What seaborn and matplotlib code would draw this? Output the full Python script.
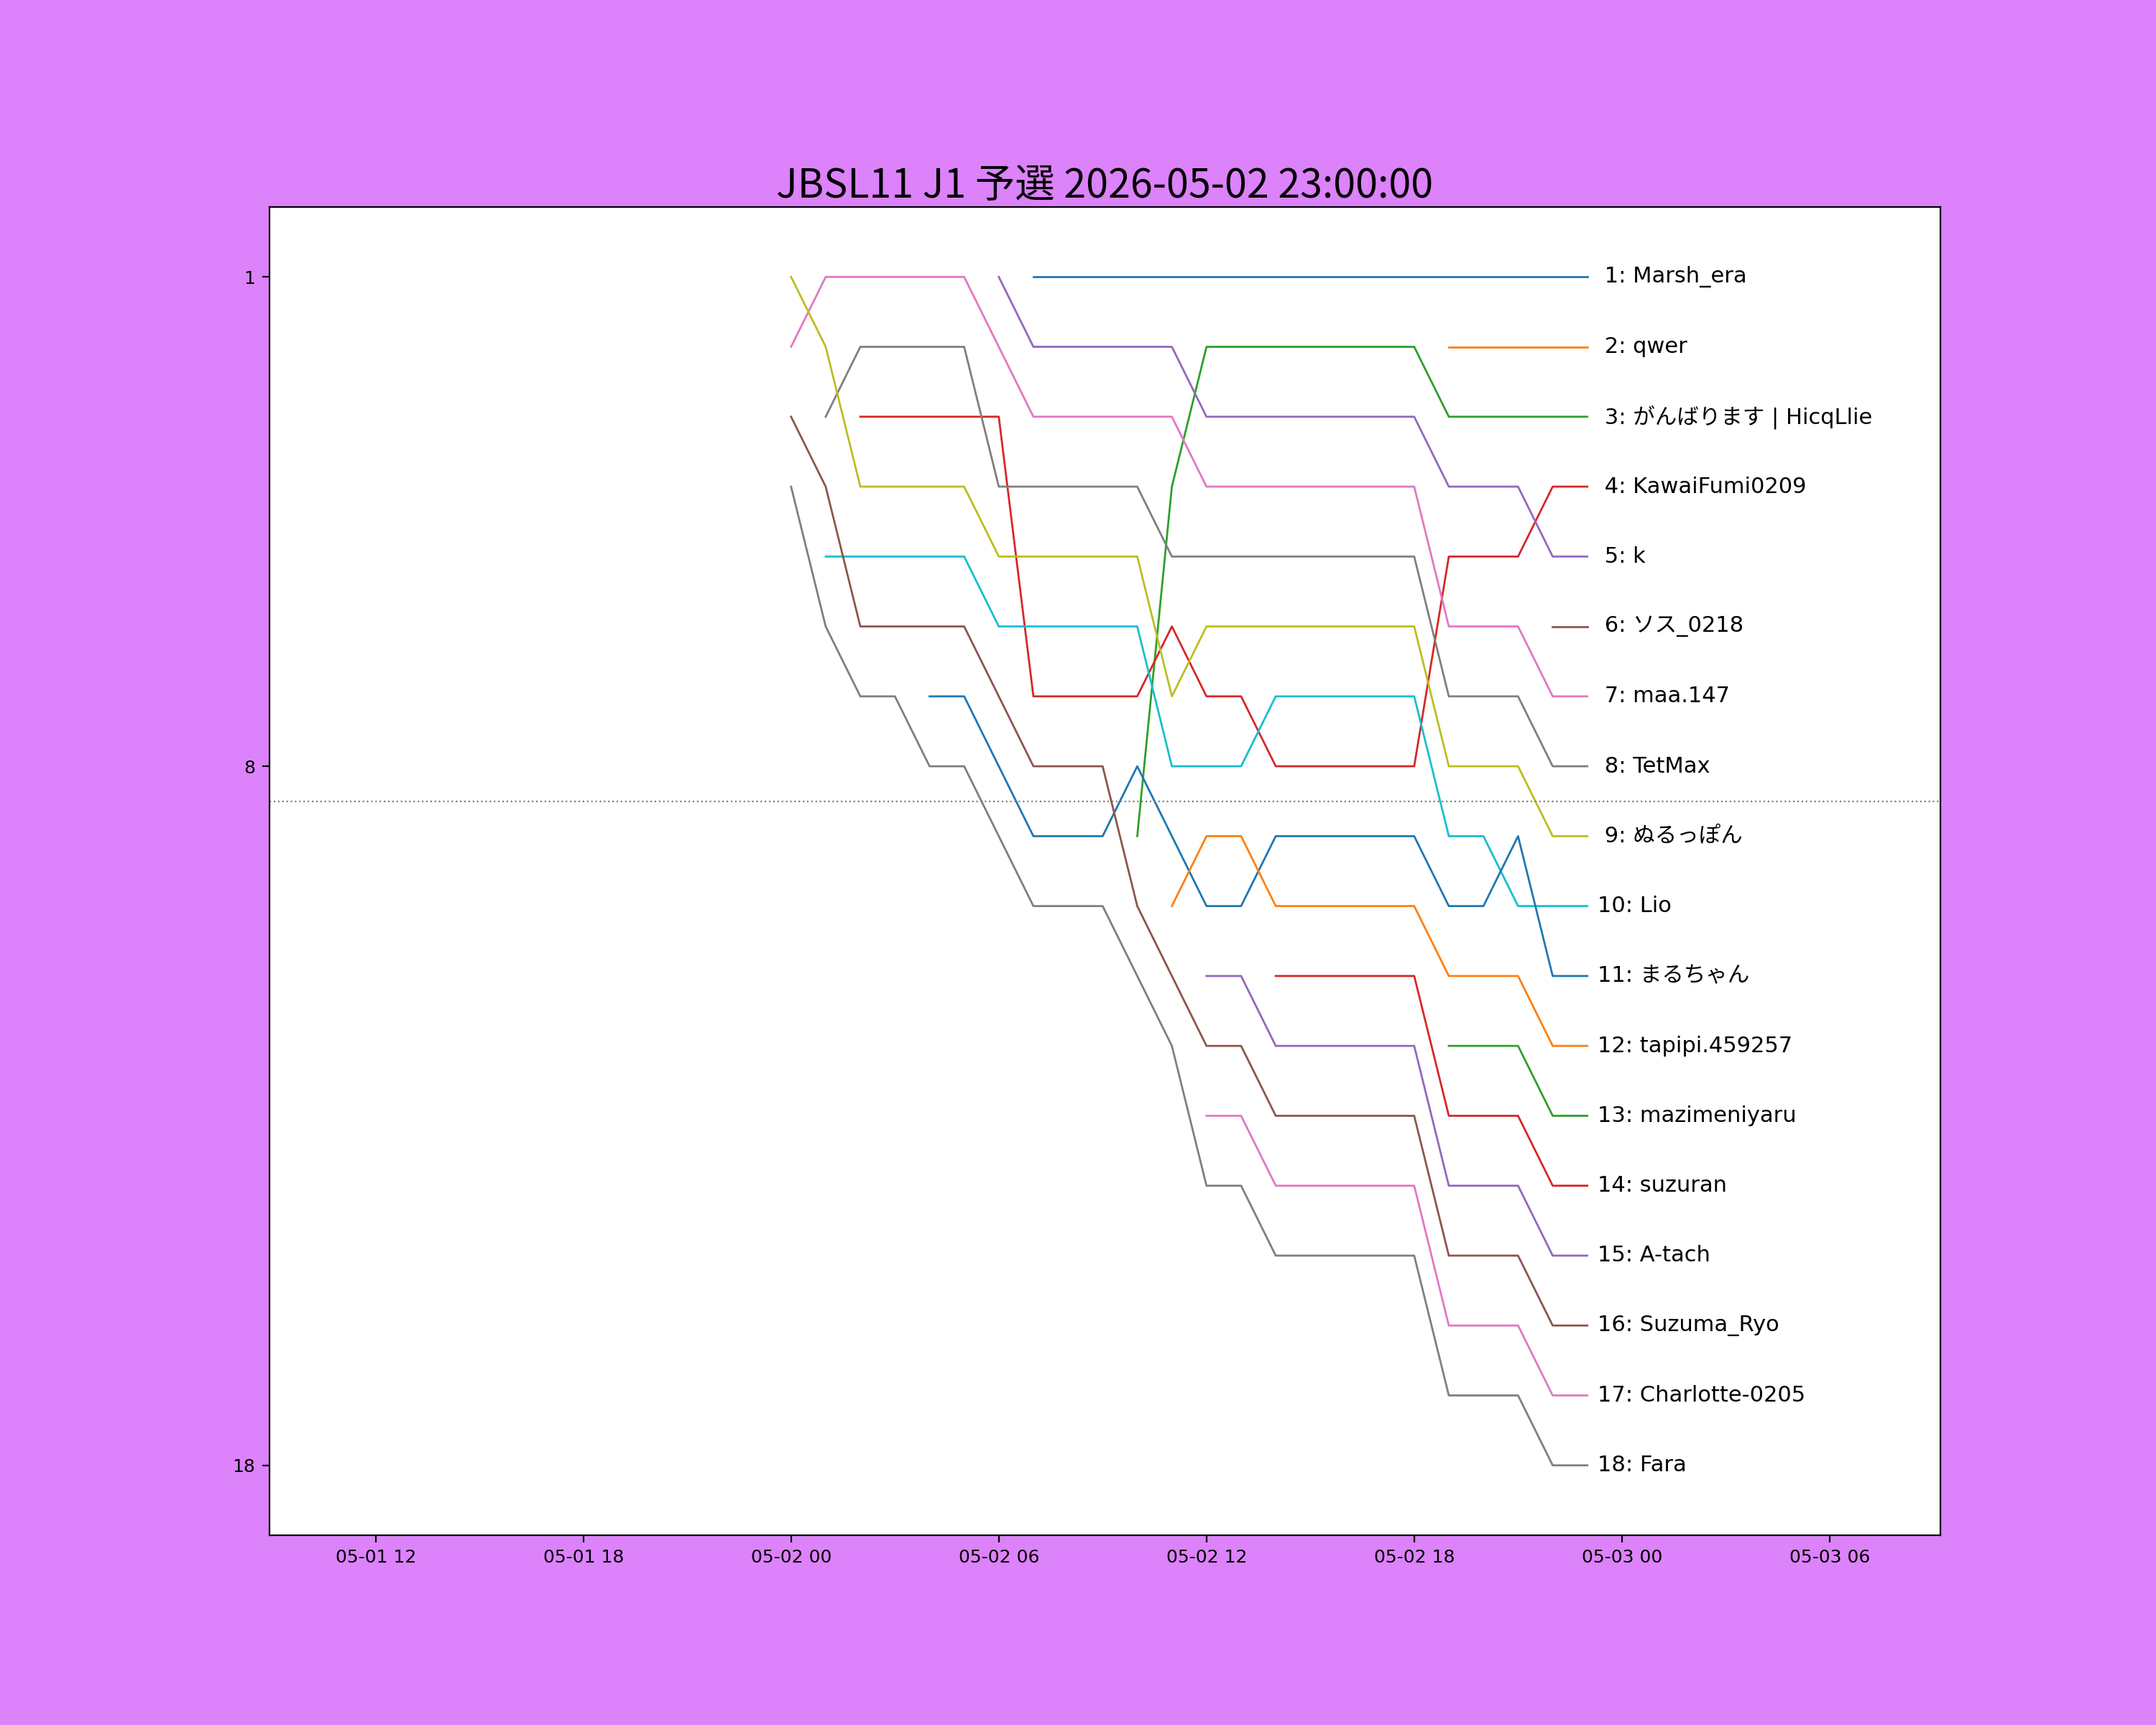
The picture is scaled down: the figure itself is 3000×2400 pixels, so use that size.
import matplotlib
matplotlib.use("Agg")
import matplotlib.pyplot as plt
import matplotlib.dates as mdates
import seaborn as sns
import pandas as pd
import numpy as np

plt.rcParams['font.family'] = ['DejaVu Sans', 'Noto Sans CJK JP']

title = "JBSL11 J1 予選 2026-05-02 23:00:00"
start_time = "2026-05-02 00:00"
last_time = "2026-05-02 23:00"
x_min = "2026-05-01 08:56"
x_max = "2026-05-03 09:12"

names = ["Marsh_era", "qwer", "がんばります | HicqLlie", "KawaiFumi0209", "k",
         "ソス_0218", "maa.147", "TetMax", "ぬるっぽん", "Lio", "まるちゃん",
         "tapipi.459257", "mazimeniyaru", "suzuran", "A-tach", "Suzuma_Ryo",
         "Charlotte-0205", "Fara"]

# hour (from start_time) of each player's first ranked snapshot
first_hour = [7, 19, 10, 2, 6, 22, 0, 1, 0, 1, 4, 11, 19, 14, 12, 0, 12, 0]

r_marsh_era = [1, 1, 1, 1, 1, 1, 1, 1, 1, 1, 1, 1, 1, 1, 1, 1, 1]
r_qwer = [2, 2, 2, 2, 2]
r_hicqllie = [9, 4, 2, 2, 2, 2, 2, 2, 2, 3, 3, 3, 3, 3]
r_kawaifumi = [3, 3, 3, 3, 3, 7, 7, 7, 7, 6, 7, 7, 8, 8, 8, 8, 8, 5, 5, 5, 4, 4]
r_k = [1, 2, 2, 2, 2, 2, 3, 3, 3, 3, 3, 3, 3, 4, 4, 4, 5, 5]
r_sosu = [6, 6]
r_maa = [2, 1, 1, 1, 1, 1, 2, 3, 3, 3, 3, 3, 4, 4, 4, 4, 4, 4, 4, 6, 6, 6, 7, 7]
r_tetmax = [3, 2, 2, 2, 2, 4, 4, 4, 4, 4, 5, 5, 5, 5, 5, 5, 5, 5, 7, 7, 7, 8, 8]
r_nurupon = [1, 2, 4, 4, 4, 4, 5, 5, 5, 5, 5, 7, 6, 6, 6, 6, 6, 6, 6, 8, 8, 8, 9, 9]
r_lio = [5, 5, 5, 5, 5, 6, 6, 6, 6, 6, 8, 8, 8, 7, 7, 7, 7, 7, 9, 9, 10, 10, 10]
r_maruchan = [7, 7, 8, 9, 9, 9, 8, 9, 10, 10, 9, 9, 9, 9, 9, 10, 10, 9, 11, 11]
r_tapipi = [10, 9, 9, 10, 10, 10, 10, 10, 11, 11, 11, 12, 12]
r_mazimeniyaru = [12, 12, 12, 13, 13]
r_suzuran = [11, 11, 11, 11, 11, 13, 13, 13, 14, 14]
r_atach = [11, 11, 12, 12, 12, 12, 12, 14, 14, 14, 15, 15]
r_suzuma = [3, 4, 6, 6, 6, 6, 7, 8, 8, 8, 10, 11, 12, 12, 13, 13, 13, 13, 13, 15, 15, 15, 16, 16]
r_charlotte = [13, 13, 14, 14, 14, 14, 14, 16, 16, 16, 17, 17]
r_fara = [4, 6, 7, 7, 8, 8, 9, 10, 10, 10, 11, 12, 14, 14, 15, 15, 15, 15, 15, 17, 17, 17, 18, 18]

rank_series = [r_marsh_era, r_qwer, r_hicqllie, r_kawaifumi, r_k, r_sosu, r_maa,
               r_tetmax, r_nurupon, r_lio, r_maruchan, r_tapipi, r_mazimeniyaru,
               r_suzuran, r_atach, r_suzuma, r_charlotte, r_fara]

final_ranks = list(range(1, 19))
y_ticks = [1, 8, 18]
cutoff_line = 8.5

t0 = pd.Timestamp(start_time)
rows = []
for name, h0, ranks in zip(names, first_hour, rank_series):
    for i, r in enumerate(ranks):
        rows.append({"time": t0 + pd.Timedelta(hours=h0 + i), "player": name, "rank": r})
df = pd.DataFrame(rows)

tab10 = sns.color_palette("tab10", 10)
palette = {n: tab10[i % 10] for i, n in enumerate(names)}

fig = plt.figure(figsize=(15, 12), dpi=200, facecolor="#DC82FA")
ax = fig.add_subplot(111)
ax.set_facecolor("white")

sns.lineplot(data=df, x="time", y="rank", hue="player", hue_order=names,
             palette=palette, linewidth=1.0, legend=False, ax=ax,
             estimator=None, sort=True)

ax.axhline(cutoff_line, color="gray", linestyle=":", linewidth=0.8)

label_x = pd.Timestamp(last_time) + pd.Timedelta(minutes=18)
for rank, name in zip(final_ranks, names):
    ax.text(label_x, rank, f"{rank:2d}: {name}", va="center", ha="left", fontsize=11)

ax.set_ylim(19, 0)
ax.set_yticks(y_ticks)
ax.set_xlim(pd.Timestamp(x_min), pd.Timestamp(x_max))
ax.xaxis.set_major_locator(mdates.HourLocator(byhour=[0, 6, 12, 18]))
ax.xaxis.set_major_formatter(mdates.DateFormatter("%m-%d %H"))
ax.set_xlabel("")
ax.set_ylabel("")
ax.tick_params(labelsize=9)
ax.set_title(title, fontsize=20, family=['Noto Sans CJK JP', 'DejaVu Sans'], pad=3)

fig.savefig("out.png", dpi=200, facecolor=fig.get_facecolor())
